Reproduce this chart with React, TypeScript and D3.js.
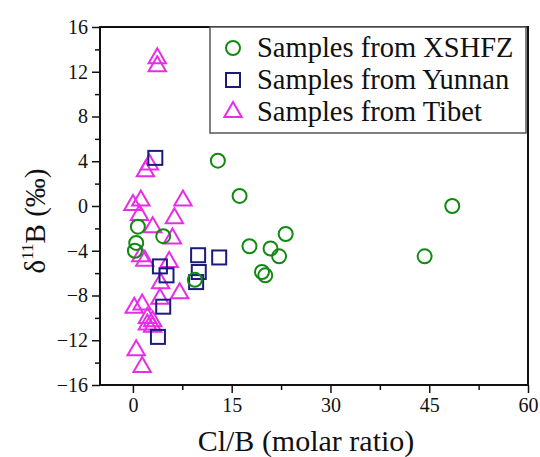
import React, { useRef, useEffect } from "react";
import { select, scaleLinear, axisBottom, axisLeft, range, symbol, symbolTriangle } from "d3";

// data
const xshfzX = [12.9, 16.2, 17.7, 20.9, 23.2, 22.2, 19.6, 20.1, 48.5, 44.3, 0.75, 0.5, 4.6, 9.4, 0.3];
const xshfzY = [4.05, 0.9, -3.6, -3.8, -2.5, -4.5, -5.9, -6.2, 0, -4.5, -1.85, -3.3, -2.7, -6.6, -4.0];

const yunnanX = [3.4, 4.1, 5.1, 4.6, 3.8, 9.9, 13.1, 10.0, 9.6];
const yunnanY = [4.3, -5.4, -6.2, -9.0, -11.7, -4.4, -4.6, -5.9, -6.8];

const tibetX = [3.7, 3.7, 2.5, 1.9, 0, 1.2, 1.0, 7.6, 6.3, 3.0, 6.0, 1.2, 1.8, 5.5, 4.2, 7.1, 4.1, 1.4, 0.2, 2.2, 3.0, 2.2, 3.0, 0.5, 1.4];
const tibetY = [13.2, 12.5, 3.7, 3.1, 0.1, 0.5, -0.8, 0.5, -1.1, -1.9, -2.9, -4.5, -4.9, -5.0, -6.9, -7.8, -8.3, -8.8, -9.1, -10.0, -10.3, -10.6, -10.8, -12.9, -14.4];

const xTicks = [0, 15, 30, 45, 60];
const yTicks = [-16, -12, -8, -4, 0, 4, 8, 12, 16];
const legendLabels = ["Samples from XSHFZ", "Samples from Yunnan", "Samples from Tibet"];

const GREEN = "#118a11";
const NAVY = "#1b1b7d";
const MAGENTA = "#e82ce8";
const FONT = "'Liberation Serif', 'Times New Roman', serif";

const App = () => {
  const svgRef = useRef<SVGSVGElement>(null);

  useEffect(() => {
    const svg = select(svgRef.current);
    svg.selectAll("*").remove();

    const left = 100, right = 528, top = 27, bottom = 385;
    const x = scaleLinear().domain([-5, 60]).range([left, right]);
    const y = scaleLinear().domain([-16, 16]).range([bottom, top]);

    //minor ticks
    const xMinor = axisBottom(x).tickValues(range(7.5, 60, 15)).tickSize(5).tickFormat(() => "");
    svg.append("g").attr("transform", `translate(0,${bottom})`).call(xMinor);
    const yMinor = axisLeft(y).tickValues(range(-14, 16, 4)).tickSize(5).tickFormat(() => "");
    svg.append("g").attr("transform", `translate(${left},0)`).call(yMinor);

    //major axes
    const xAxis = axisBottom(x).tickValues(xTicks).tickSize(8).tickPadding(5);
    const gx = svg.append("g").attr("transform", `translate(0,${bottom})`).call(xAxis);
    const yAxis = axisLeft(y).tickValues(yTicks).tickSize(8).tickPadding(4);
    const gy = svg.append("g").attr("transform", `translate(${left},0)`).call(yAxis);

    [gx, gy].forEach((g) => {
      g.selectAll("text").attr("font-family", FONT).attr("font-size", 20).attr("fill", "#111");
    });
    svg.selectAll(".domain").remove();
    svg.selectAll(".tick line").attr("stroke", "#111").attr("stroke-width", 1.5);

    //frame
    svg.append("rect")
      .attr("x", left).attr("y", top)
      .attr("width", right - left).attr("height", bottom - top)
      .attr("fill", "none").attr("stroke", "#111").attr("stroke-width", 2);

    const plot = svg.append("g");

    //triangles
    const tri = symbol().type(symbolTriangle).size(130);
    plot.selectAll(".tri")
      .data(tibetX.map((v, i) => [v, tibetY[i]]))
      .join("path")
      .attr("d", tri)
      .attr("transform", (d) => `translate(${x(d[0])},${y(d[1])})`)
      .attr("fill", "none").attr("stroke", MAGENTA).attr("stroke-width", 2);

    //squares
    plot.selectAll(".sq")
      .data(yunnanX.map((v, i) => [v, yunnanY[i]]))
      .join("rect")
      .attr("x", (d) => x(d[0]) - 7)
      .attr("y", (d) => y(d[1]) - 7)
      .attr("width", 14).attr("height", 14)
      .attr("fill", "none").attr("stroke", NAVY).attr("stroke-width", 2);

    //circles
    plot.selectAll(".circ")
      .data(xshfzX.map((v, i) => [v, xshfzY[i]]))
      .join("circle")
      .attr("cx", (d) => x(d[0]))
      .attr("cy", (d) => y(d[1]))
      .attr("r", 7)
      .attr("fill", "none").attr("stroke", GREEN).attr("stroke-width", 2);

    //legend
    const lg = svg.append("g");
    lg.append("rect")
      .attr("x", 210).attr("y", top)
      .attr("width", right - 2 - 210).attr("height", 133 - top)
      .attr("fill", "white").attr("stroke", "#555").attr("stroke-width", 1.5);
    legendLabels.forEach((label, i) => {
      const cy = 48 + i * 32;
      if (i === 0) {
        lg.append("circle").attr("cx", 233).attr("cy", cy).attr("r", 7)
          .attr("fill", "none").attr("stroke", GREEN).attr("stroke-width", 2);
      } else if (i === 1) {
        lg.append("rect").attr("x", 226).attr("y", cy - 7).attr("width", 14).attr("height", 14)
          .attr("fill", "none").attr("stroke", NAVY).attr("stroke-width", 2);
      } else {
        lg.append("path").attr("d", tri).attr("transform", `translate(233,${cy})`)
          .attr("fill", "none").attr("stroke", MAGENTA).attr("stroke-width", 2);
      }
      lg.append("text")
        .attr("x", 257).attr("y", cy + 9)
        .attr("font-family", FONT).attr("font-size", 28.5).attr("fill", "#111")
        .text(label);
    });

    //axis titles
    svg.append("text")
      .attr("x", 306).attr("y", 451)
      .attr("text-anchor", "middle")
      .attr("font-family", FONT).attr("font-size", 30).attr("fill", "#111")
      .text("Cl/B (molar ratio)");

    const yt = svg.append("text")
      .attr("transform", `translate(45,221) rotate(-90)`)
      .attr("text-anchor", "middle")
      .attr("font-family", FONT).attr("font-size", 29).attr("fill", "#111");
    yt.append("tspan").text("δ");
    yt.append("tspan").attr("font-size", 17).attr("dy", -12).text("11");
    yt.append("tspan").attr("dy", 12).text("B (‰)");
  }, []);

  return (
    <svg
      ref={svgRef}
      width={540}
      height={457}
      style={{ position: "absolute", left: 0, top: 0, display: "block", background: "#fff" }}
    />
  );
};

export default App;
